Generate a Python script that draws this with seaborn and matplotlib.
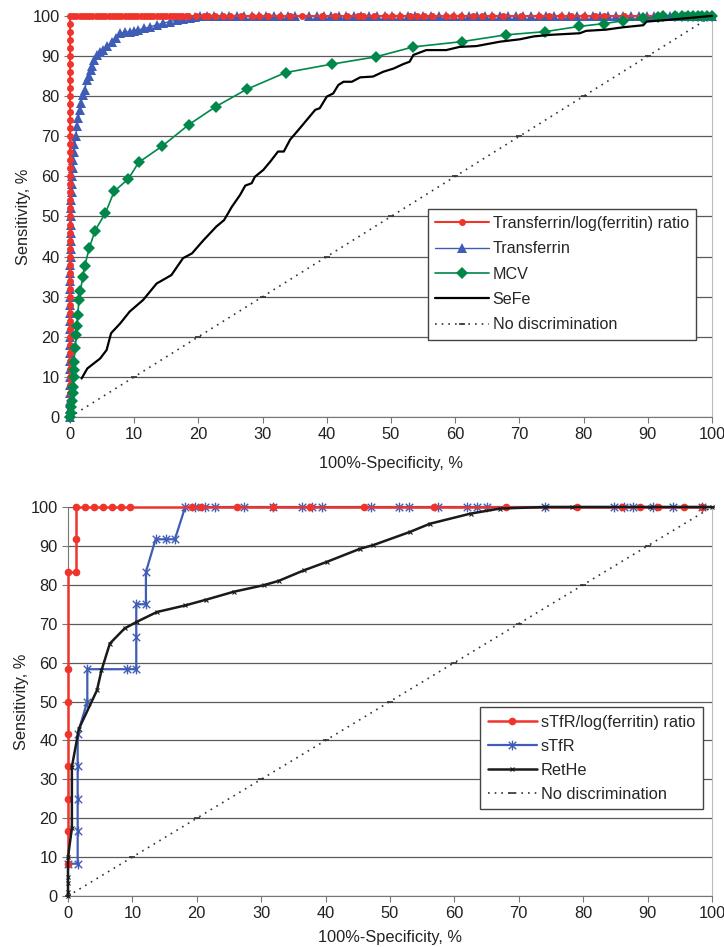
import seaborn as sns
import matplotlib
matplotlib.use("Agg")
import matplotlib.pyplot as plt
from matplotlib.path import Path

# ---- top panel: Transferrin/log(ferritin) ratio, Transferrin, MCV, SeFe ----
ratio_vert_y = [0, 2, 4, 6, 8, 10, 12, 14, 16, 18, 20, 22, 24, 26, 28, 30, 32, 34,
                36, 38, 40, 42, 44, 46, 48, 50, 52, 54, 56, 58, 60, 62, 64, 66, 68,
                70, 72, 74, 76, 78, 80, 82, 84, 86, 88, 90, 92, 94, 96, 98, 100]
ratio_flat_x = [0.5, 1, 1.5, 2, 2.5, 3, 3.5, 4, 4.5, 5, 5.5, 6, 6.5, 7, 7.5, 8, 8.5,
                9, 9.5, 10, 10.5, 11, 11.5, 12, 12.5, 13, 13.5, 14, 14.5, 15, 15.5,
                16, 16.5, 17, 17.5, 18, 18.4, 19.7, 20.8, 21.5, 22.6, 23.9, 24.9,
                26.7, 28.3, 29.5, 30.9, 32.7, 34.3, 36.1, 39.2, 41.3, 43.1, 44.9,
                45.7, 47.3, 49.1, 50.1, 51.4, 52.9, 54.0, 55.1, 56.4, 58.5, 59.6,
                60.9, 62.7, 64.2, 65.8, 67.4, 70.2, 73.1, 74.6, 76.5, 78.0, 80.1,
                81.7, 83.2, 86.3, 91.7, 95.1, 97.2, 99.5, 100]
ratio_x = [0.0] * len(ratio_vert_y) + ratio_flat_x
ratio_y = ratio_vert_y + [100] * len(ratio_flat_x)

transf_x = [0, 0, 0, 0, 0, 0, 0, 0, 0, 0, 0, 0, 0, 0, 0, 0, 0, 0, 0, 0,
            0.1, 0.1, 0.1, 0.1, 0.1, 0.1, 0.2, 0.2, 0.3, 0.3, 0.3, 0.4, 0.5, 0.6,
            0.7, 0.9, 1.1, 1.3, 1.5, 1.7, 2.0, 2.3, 2.6, 2.9, 3.2, 3.5, 3.8, 4.2,
            4.7, 5.2, 5.8, 6.5, 7.1, 7.8, 8.5, 9.3, 10.0, 10.6, 11.5, 12.5, 13.5,
            14.5, 15.5, 16.6, 17.6, 18.7, 19.5, 20.3, 21.4, 22.5, 23.6, 24.8,
            26.0, 27.1, 28.3, 29.4, 30.5, 31.7, 32.8, 34.0, 35.0, 37.2, 38.4,
            39.5, 40.7, 41.9, 43.0, 44.2, 45.4, 46.6, 47.8, 49.0, 50.2, 51.4,
            52.6, 53.8, 55.0, 56.2, 57.4, 58.6, 59.8, 61.0, 62.2, 63.4, 64.6,
            65.8, 67.0, 68.2, 69.4, 70.6, 71.8, 73.0, 74.2, 75.4, 76.6, 77.8,
            79.0, 80.2, 81.4, 82.6, 83.8, 85.0, 86.2, 87.4, 88.6, 89.8, 91.0,
            92.2, 93.4, 94.6, 95.8, 97.0, 98.2, 99.4, 100]
transf_y = [0, 2, 4, 6, 8, 10, 12, 14, 16, 18, 20, 22, 24, 26, 28, 30, 32, 34, 36, 38,
            40, 42, 44, 46, 48, 50, 52, 54, 56, 58, 60, 62, 64, 66,
            68, 70, 72.5, 74.5, 76.5, 78.2, 80.3, 81.5, 84.0, 85.0, 86.5, 87.6, 89.0, 90.3,
            90.9, 91.5, 92.5, 93.6, 94.6, 95.7, 95.9, 96.1, 96.3, 96.5, 96.9, 97.3, 97.8,
            98.2, 98.6, 99.0, 99.3, 99.6, 99.8, 100, 100, 100, 100, 100,
            100, 100, 100, 100, 100, 100, 100, 100, 100, 100, 100,
            100, 100, 100, 100, 100, 100, 100, 100, 100, 100, 100,
            100, 100, 100, 100, 100, 100, 100, 100, 100, 100, 100,
            100, 100, 100, 100, 100, 100, 100, 100, 100, 100, 100,
            100, 100, 100, 100, 100, 100, 100, 100, 100, 100, 100,
            100, 100, 100, 100, 100, 100, 100, 100]

mcv_x = [0.0, 0.1, 0.2, 0.3, 0.4, 0.5, 0.6, 0.6, 0.6, 0.8, 1.0, 1.1, 1.2, 1.4, 1.6,
         2.0, 2.3, 3.0, 3.9, 5.5, 6.9, 9.1, 10.7, 14.4, 18.5, 22.7, 27.5, 33.6,
         40.8, 47.6, 53.5, 61.0, 67.9, 74.0, 79.3, 83.1, 86.2, 89.3, 91.6, 92.4,
         94.2, 95.3, 96.2, 97.0, 97.8, 98.5, 99.2, 100]
mcv_y = [0.0, 1.0, 2.5, 3.9, 6.0, 7.6, 10.0, 11.8, 13.8, 17.1, 20.4, 22.6, 25.4,
         29.2, 31.5, 34.8, 37.7, 42.1, 46.5, 50.8, 56.3, 59.4, 63.5, 67.6, 72.9,
         77.4, 81.7, 85.9, 88.0, 89.8, 92.3, 93.6, 95.3, 96.1, 97.4, 98.1, 98.8,
         99.4, 99.8, 100, 100, 100, 100, 100, 100, 100, 100, 100]

sefe_x = [1.8, 2.7, 4.7, 5.7, 6.4, 7.8, 9.3, 11.4, 13.5, 14.5, 15.8, 17.6, 19.0,
          20.8, 22.8, 24.0, 25.2, 26.5, 27.3, 28.3, 28.8, 30.1, 31.2, 32.4, 33.3,
          34.3, 35.8, 37.1, 38.2, 38.9, 40.0, 41.0, 41.8, 42.6, 43.9, 45.2, 47.2,
          48.8, 50.4, 51.9, 52.9, 53.5, 55.5, 58.6, 60.7, 63.3, 67.0, 70.1, 72.2,
          74.8, 79.4, 80.4, 83.5, 86.2, 89.3, 89.8, 92.9, 97.1, 99.7, 100]
sefe_y = [9.6, 12.1, 14.6, 16.7, 20.9, 23.3, 26.3, 29.2, 33.3, 34.2, 35.4, 39.6,
          40.8, 44.1, 47.5, 49.1, 52.4, 55.4, 57.7, 58.3, 59.9, 61.6, 63.7, 66.2,
          66.2, 69.2, 72.0, 74.5, 76.6, 77.0, 79.9, 80.7, 82.8, 83.6, 83.6, 84.7,
          84.9, 86.1, 86.9, 88.0, 88.6, 90.3, 91.5, 91.5, 92.3, 92.5, 93.6, 94.2,
          94.9, 95.3, 95.7, 96.3, 96.6, 97.2, 97.7, 98.6, 99.0, 99.6, 100, 100]

# ---- bottom panel: sTfR/log(ferritin) ratio, sTfR, RetHe ----
sratio_x = [0, 0, 0, 0, 0, 0, 0, 0, 1.2, 1.2, 1.2, 2.7, 4.1, 5.4, 6.9, 8.3, 9.6,
            19.2, 20.7, 26.3, 31.8, 37.5, 45.9, 56.9, 68.0, 79.0, 86.0, 88.8,
            91.6, 95.7, 98.4]
sratio_y = [8.3, 16.7, 25.0, 33.3, 41.7, 50.0, 58.3, 83.3, 83.3, 91.7, 100, 100,
            100, 100, 100, 100, 100, 100, 100, 100, 100, 100, 100, 100, 100, 100,
            100, 100, 100, 100, 100]

stfr_x = [0, 1.5, 1.5, 1.5, 1.5, 1.5, 3.0, 3.0, 9.1, 10.6, 10.6, 10.6, 12.1, 12.1,
          13.6, 15.2, 16.6, 18.2, 19.7, 21.2, 22.8, 27.4, 31.8, 36.3, 37.9, 39.4,
          47.0, 51.4, 53.0, 57.4, 62.0, 63.5, 65.0, 74.1, 84.8, 86.3, 87.8, 90.9,
          93.9, 98.4]
stfr_y = [8.3, 8.3, 16.7, 25.0, 33.3, 41.7, 50.0, 58.3, 58.3, 58.3, 66.7, 75.0,
          75.0, 83.3, 91.7, 91.7, 91.7, 100, 100, 100, 100, 100, 100, 100, 100,
          100, 100, 100, 100, 100, 100, 100, 100, 100, 100, 100, 100, 100, 100, 100]

rethe_x = [0, 0, 0, 0, 0, 0.6, 0.6, 1.7, 4.5, 5.2, 6.5, 8.8, 10.7, 13.8, 18.2,
           21.5, 25.7, 30.4, 32.7, 36.6, 40.2, 45.4, 47.4, 53.1, 56.2, 62.5, 67.1,
           74.1, 78.2, 90.4, 98.7, 100]
rethe_y = [0, 1.1, 3.3, 5.0, 10.0, 17.4, 33.2, 43.0, 52.9, 58.0, 64.9, 68.8, 70.5,
           73.0, 74.7, 76.2, 78.2, 79.9, 81.0, 83.7, 85.9, 89.3, 90.2, 93.6, 95.7,
           98.3, 99.6, 100, 100, 100, 100, 100]

diag = [0, 10, 20, 30, 40, 50, 60, 70, 80, 90, 100]
ticks = [0, 10, 20, 30, 40, 50, 60, 70, 80, 90, 100]

RED = "#F0332B"
BLUE = "#3F5DB6"
GREEN = "#00874A"
FS = 11.8

sns.set_style("white")
plt.rcParams["font.family"] = ["Liberation Sans", "DejaVu Sans"]

# Excel-style "star" marker: an x crossed by a vertical bar
asterisk = Path(
    [(-1, -1), (1, 1), (-1, 1), (1, -1), (0, -1.3), (0, 1.3)],
    [Path.MOVETO, Path.LINETO, Path.MOVETO, Path.LINETO, Path.MOVETO, Path.LINETO],
)


def style_axis(ax, xlabel_pad):
    ax.set_xlim(0, 100)
    ax.set_ylim(0, 100)
    ax.set_xticks(ticks)
    ax.set_yticks(ticks)
    ax.yaxis.grid(True, color="#5a5a5a", linewidth=0.9)
    ax.xaxis.grid(False)
    ax.set_axisbelow(True)
    ax.spines["top"].set_visible(False)
    ax.spines["left"].set_color("#777777")
    ax.spines["bottom"].set_color("#777777")
    ax.spines["right"].set_color("#bbbbbb")
    ax.tick_params(axis="both", direction="out", length=4, width=0.8,
                   color="#777777", labelsize=FS, labelcolor="#222222",
                   left=True, bottom=True)
    ax.set_ylabel("Sensitivity, %", fontsize=FS, color="#222222", labelpad=1)
    ax.set_xlabel("100%-Specificity, %", fontsize=FS, color="#222222",
                  labelpad=xlabel_pad)


def draw(ax, x, y, **kw):
    sns.lineplot(x=x, y=y, ax=ax, sort=False, estimator=None, clip_on=False, **kw)


fig = plt.figure(figsize=(7.24, 9.47), dpi=100)
ax1 = fig.add_axes([70 / 724, 1 - 417 / 947, 642 / 724, 401 / 947])
ax2 = fig.add_axes([68 / 724, 1 - 896 / 947, 644 / 724, 389 / 947])

# top panel
draw(ax1, transf_x, transf_y, color=BLUE, linewidth=1.0, marker="^",
     markersize=6.5, markeredgewidth=0, label="Transferrin", zorder=3)
draw(ax1, ratio_x, ratio_y, color=RED, linewidth=1.5, marker="o",
     markersize=5, markeredgewidth=0, label="Transferrin/log(ferritin) ratio",
     zorder=4)
draw(ax1, mcv_x, mcv_y, color=GREEN, linewidth=1.2, marker="D",
     markersize=6.5, markeredgewidth=0, label="MCV", zorder=5)
draw(ax1, sefe_x, sefe_y, color="black", linewidth=1.6, label="SeFe", zorder=6)
draw(ax1, diag, diag, color="#333333", linewidth=1.2, linestyle=(0, (1, 3)),
     marker="_", markersize=4, markeredgecolor="#333333", markeredgewidth=1.2,
     label="No discrimination", zorder=2)

handles, labels = ax1.get_legend_handles_labels()
order = [1, 0, 2, 3, 4]
ax1.legend([handles[i] for i in order], [labels[i] for i in order],
           loc="upper left", bbox_to_anchor=(0.558, 0.519), fontsize=11.6,
           frameon=True, fancybox=False, framealpha=1, edgecolor="#444444",
           handlelength=3.3, handletextpad=0.25, labelspacing=0.64,
           borderpad=0.45, borderaxespad=0)
style_axis(ax1, 10)

# bottom panel
draw(ax2, sratio_x, sratio_y, color=RED, linewidth=1.8, marker="o",
     markersize=5.5, markeredgewidth=0, label="sTfR/log(ferritin) ratio", zorder=4)
draw(ax2, stfr_x, stfr_y, color=BLUE, linewidth=1.6, marker=asterisk,
     markersize=7, markerfacecolor="none", markeredgecolor=BLUE,
     markeredgewidth=1.0, label="sTfR", zorder=3)
draw(ax2, rethe_x, rethe_y, color="#1a1a1a", linewidth=1.8, marker="x",
     markersize=3, markeredgecolor="#1a1a1a", markeredgewidth=0.8,
     label="RetHe", zorder=5)
draw(ax2, diag, diag, color="#333333", linewidth=1.2, linestyle=(0, (1, 3)),
     marker="_", markersize=4, markeredgecolor="#333333", markeredgewidth=1.2,
     label="No discrimination", zorder=2)

ax2.legend(loc="upper left", bbox_to_anchor=(0.640, 0.4855), fontsize=FS,
           frameon=True, fancybox=False, framealpha=1, edgecolor="#444444",
           handlelength=3.0, handletextpad=0.25, labelspacing=0.55,
           borderpad=0.45, borderaxespad=0)
style_axis(ax2, 6)

fig.savefig("out.png", dpi=100)
